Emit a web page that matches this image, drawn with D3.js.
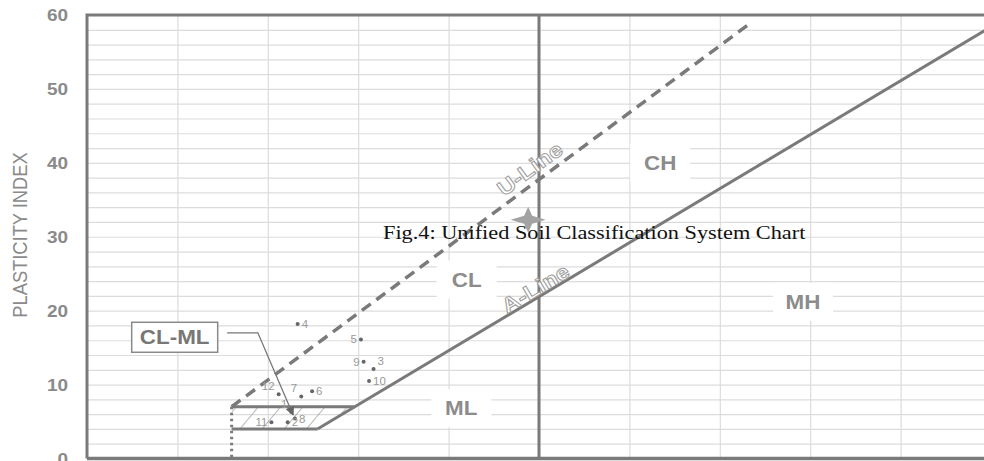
<!DOCTYPE html>
<meta charset="utf-8">
<script src="https://d3js.org/d3.v7.min.js"></script>
<style>
  body { margin: 0; background: #fff; }
  .sans { font-family: "Liberation Sans", Arial, sans-serif; }
  .serif { font-family: "Liberation Serif", "Times New Roman", serif; }
</style>
<div id="chart"></div>
<script>
// values (liquid limit vs plasticity index)
var yTicks = [0, 10, 20, 30, 40, 50, 60];
var xGridTicks = [10, 20, 30, 40, 50, 60, 70, 80, 90, 100];
var yGridTicks = [2, 4, 6, 8, 10, 12, 14, 16, 18, 20, 22, 24, 26, 28, 30, 32, 34, 36, 38, 40, 42, 44, 46, 48, 50, 52, 54, 56, 58];

var aLine = [[25.5, 4], [100, 58.4]];
var uLine = [[16, 7], [73.5, 59]];
var clmlTop = [[16, 7], [29.6, 7]];
var clmlBottom = [[16, 4], [25.5, 4]];
var clmlZone = [[16, 4], [25.5, 4], [29.6, 7], [16, 7]];
var dottedLL = [[16, 7], [16, 0]];
var llDivide = [[50, 0], [50, 60]];

var sampleIds = ["1", "2", "3", "4", "5", "6", "7", "8", "9", "10", "11", "12"];
var sampleLL  = [22.6, 22.2, 31.7, 23.3, 30.3, 24.9, 23.7, 23.0, 30.6, 31.2, 20.4, 21.2];
var samplePI  = [6.3, 4.9, 12.1, 18.2, 16.1, 9.1, 8.4, 5.4, 13.1, 10.5, 4.9, 8.7];
var labelSide = ["tl", "r", "tr", "r", "l", "r", "tl", "r", "l", "r", "l", "tl"];

var starPoint = [48.8, 32.3];

var zoneNames = ["CH", "MH", "CL", "ML"];
var zoneLL = [63.4, 79.2, 42.0, 41.4];
var zonePI = [40.0, 21.2, 24.2, 6.8];

var clmlLabel = [9.7, 16.4];
var clmlLeader = [[15.5, 17.0], [18.9, 17.0], [22.8, 5.9]];

var lineNames = ["U-Line", "A-Line"];
var lineLabelAt = [[49.0, 39.2], [49.6, 23.0]];
var lineSlope = [0.9, 0.73];

var title = "Fig.4: Unified Soil Classification System Chart";

// ---------------------------------------------------------------
var W = 984, H = 461, SX = 1.15;   // source picture is stretched sideways
var grey = "#7a7a7a";

var x = d3.scaleLinear().domain([0, 100]).range([87, 991]);
var y = d3.scaleLinear().domain([0, 60]).range([458.5, 15]);
var line = d3.line().x(function (d) { return x(d[0]); }).y(function (d) { return y(d[1]); });

var svg = d3.select("#chart").append("svg")
    .attr("width", W).attr("height", H);

var defs = svg.append("defs");
defs.append("pattern")
    .attr("id", "hatch").attr("patternUnits", "userSpaceOnUse")
    .attr("width", 17).attr("height", 17)
    .attr("patternTransform", "rotate(40)")
  .append("line")
    .attr("x1", 0).attr("y1", 0).attr("x2", 0).attr("y2", 17)
    .attr("stroke", "#8a8a8a").attr("stroke-width", 1.2);
defs.append("marker")
    .attr("id", "arrow").attr("viewBox", "0 0 10 10")
    .attr("refX", 9).attr("refY", 5)
    .attr("markerWidth", 7).attr("markerHeight", 7)
    .attr("orient", "auto")
  .append("path").attr("d", "M0,0 L10,5 L0,10 z").attr("fill", "#666");

// grid
svg.append("g")
    .attr("transform", "translate(87,0)")
    .call(d3.axisLeft(y).tickValues(yGridTicks).tickSize(-(991 - 87)).tickFormat(""))
    .call(function (g) { g.select(".domain").remove(); })
    .selectAll("line").attr("stroke", "#dcdcdc").attr("stroke-width", 1.2);
svg.append("g")
    .attr("transform", "translate(0," + y(0) + ")")
    .call(d3.axisBottom(x).tickValues(xGridTicks).tickSize(-(y(0) - y(60))).tickFormat(""))
    .call(function (g) { g.select(".domain").remove(); })
    .selectAll("line").attr("stroke", "#dcdcdc").attr("stroke-width", 1.2);

// white patches behind zone names
var zones = zoneNames.map(function (n, i) { return {name: n, ll: zoneLL[i], pi: zonePI[i]}; });
svg.append("g").selectAll("rect").data(zones).enter().append("rect")
    .attr("x", function (d) { return x(d.ll) - 30; })
    .attr("y", function (d) { return y(d.pi) - 19; })
    .attr("width", 60).attr("height", 38)
    .attr("fill", "#fff");

// hatched CL-ML zone
svg.append("path").datum(clmlZone)
    .attr("d", function (d) { return line(d) + "Z"; })
    .attr("fill", "url(#hatch)");

// frame
svg.append("path").datum([[0, 0], [0, 60], [100, 60]])
    .attr("d", line).attr("fill", "none").attr("stroke", grey).attr("stroke-width", 3);
svg.append("path").datum([[0, 0], [100, 0]])
    .attr("d", line).attr("fill", "none").attr("stroke", grey).attr("stroke-width", 3.5);
svg.append("path").datum(llDivide)
    .attr("d", line).attr("fill", "none").attr("stroke", grey).attr("stroke-width", 3);

// classification lines
svg.append("path").datum(aLine)
    .attr("d", line).attr("fill", "none").attr("stroke", grey).attr("stroke-width", 3);
svg.append("path").datum(uLine)
    .attr("d", line).attr("fill", "none").attr("stroke", grey).attr("stroke-width", 3.5)
    .attr("stroke-dasharray", "11,7");
[clmlTop, clmlBottom].forEach(function (seg) {
  svg.append("path").datum(seg)
      .attr("d", line).attr("fill", "none").attr("stroke", grey).attr("stroke-width", 3);
});
svg.append("path").datum(dottedLL)
    .attr("d", line).attr("fill", "none").attr("stroke", grey).attr("stroke-width", 3)
    .attr("stroke-dasharray", "2.5,3.5");

// y axis labels
svg.append("g")
    .selectAll("text").data(yTicks).enter().append("text")
    .attr("class", "sans")
    .attr("transform", function (d) { return "translate(68," + (y(d) + 6) + ") scale(" + SX + ",1)"; })
    .attr("text-anchor", "end")
    .attr("font-size", 16.5).attr("font-weight", "bold").attr("fill", "#8a8a8a")
    .text(function (d) { return d; });

svg.append("text")
    .attr("class", "sans")
    .attr("transform", "translate(27,235) scale(" + SX + ",1) rotate(-90)")
    .attr("text-anchor", "middle")
    .attr("font-size", 18.3).attr("fill", "#8a8a8a")
    .text("PLASTICITY INDEX");

// zone names
svg.append("g").selectAll("text").data(zones).enter().append("text")
    .attr("class", "sans")
    .attr("transform", function (d) { return "translate(" + x(d.ll) + "," + (y(d.pi) + 7) + ") scale(" + SX + ",1)"; })
    .attr("text-anchor", "middle")
    .attr("font-size", 19.5).attr("font-weight", "bold").attr("fill", "#8c8c8c")
    .text(function (d) { return d.name; });

// line names (outlined lettering along the lines)
lineNames.forEach(function (n, i) {
  var ang = -Math.atan(lineSlope[i] * (y(0) - y(1)) / (x(1) - x(0))) * 180 / Math.PI;
  svg.append("text")
      .attr("class", "sans")
      .attr("transform", "translate(" + x(lineLabelAt[i][0]) + "," + y(lineLabelAt[i][1]) + ") rotate(" + ang + ") scale(" + SX + ",1)")
      .attr("text-anchor", "middle").attr("dy", "0.35em")
      .attr("font-size", 21).attr("font-weight", "bold")
      .attr("fill", "#fff").attr("stroke", "#a0a0a0").attr("stroke-width", 1)
      .text(n);
});

// CL-ML callout
var bx = x(clmlLabel[0]), by = y(clmlLabel[1]);
svg.append("rect")
    .attr("x", bx - 43).attr("y", by - 15).attr("width", 86).attr("height", 30)
    .attr("fill", "#fff").attr("stroke", "#8a8a8a").attr("stroke-width", 1.5);
svg.append("text")
    .attr("class", "sans")
    .attr("transform", "translate(" + bx + "," + (by + 7) + ") scale(" + SX + ",1)")
    .attr("text-anchor", "middle")
    .attr("font-size", 19.5).attr("font-weight", "bold").attr("fill", "#777")
    .text("CL-ML");
svg.append("path").datum(clmlLeader)
    .attr("d", line).attr("fill", "none").attr("stroke", "#777").attr("stroke-width", 1.3)
    .attr("marker-end", "url(#arrow)");

// samples
var samples = sampleIds.map(function (id, i) {
  return {id: id, ll: sampleLL[i], pi: samplePI[i], side: labelSide[i]};
});
var sg = svg.append("g");
sg.selectAll("circle").data(samples).enter().append("circle")
    .attr("cx", function (d) { return x(d.ll); })
    .attr("cy", function (d) { return y(d.pi); })
    .attr("r", 2).attr("fill", "#666");
sg.selectAll("text").data(samples).enter().append("text")
    .attr("class", "sans")
    .attr("transform", function (d) {
      var dx = {r: 4, l: -4, tl: -4, tr: 4}[d.side];
      var dy = (d.side === "tl" || d.side === "tr") ? -4 : 4;
      return "translate(" + (x(d.ll) + dx) + "," + (y(d.pi) + dy) + ") scale(" + SX + ",1)";
    })
    .attr("text-anchor", function (d) { return d.side === "r" || d.side === "tr" ? "start" : "end"; })
    .attr("font-size", 10).attr("fill", "#999")
    .text(function (d) { return d.id; });

// star marker
var sx = x(starPoint[0]), sy = y(starPoint[1]);
svg.append("path")
    .attr("d", "M0,-13 L4,-4 L17.5,0 L4,4 L0,13 L-4,4 L-17.5,0 L-4,-4 Z")
    .attr("transform", "translate(" + sx + "," + sy + ")")
    .attr("fill", "#a3a3a3");

// caption lying over the chart
svg.append("text")
    .attr("class", "serif")
    .attr("transform", "translate(383,239) scale(" + SX + ",1)")
    .attr("font-size", 19.4).attr("fill", "#111")
    .text(title);
</script>
